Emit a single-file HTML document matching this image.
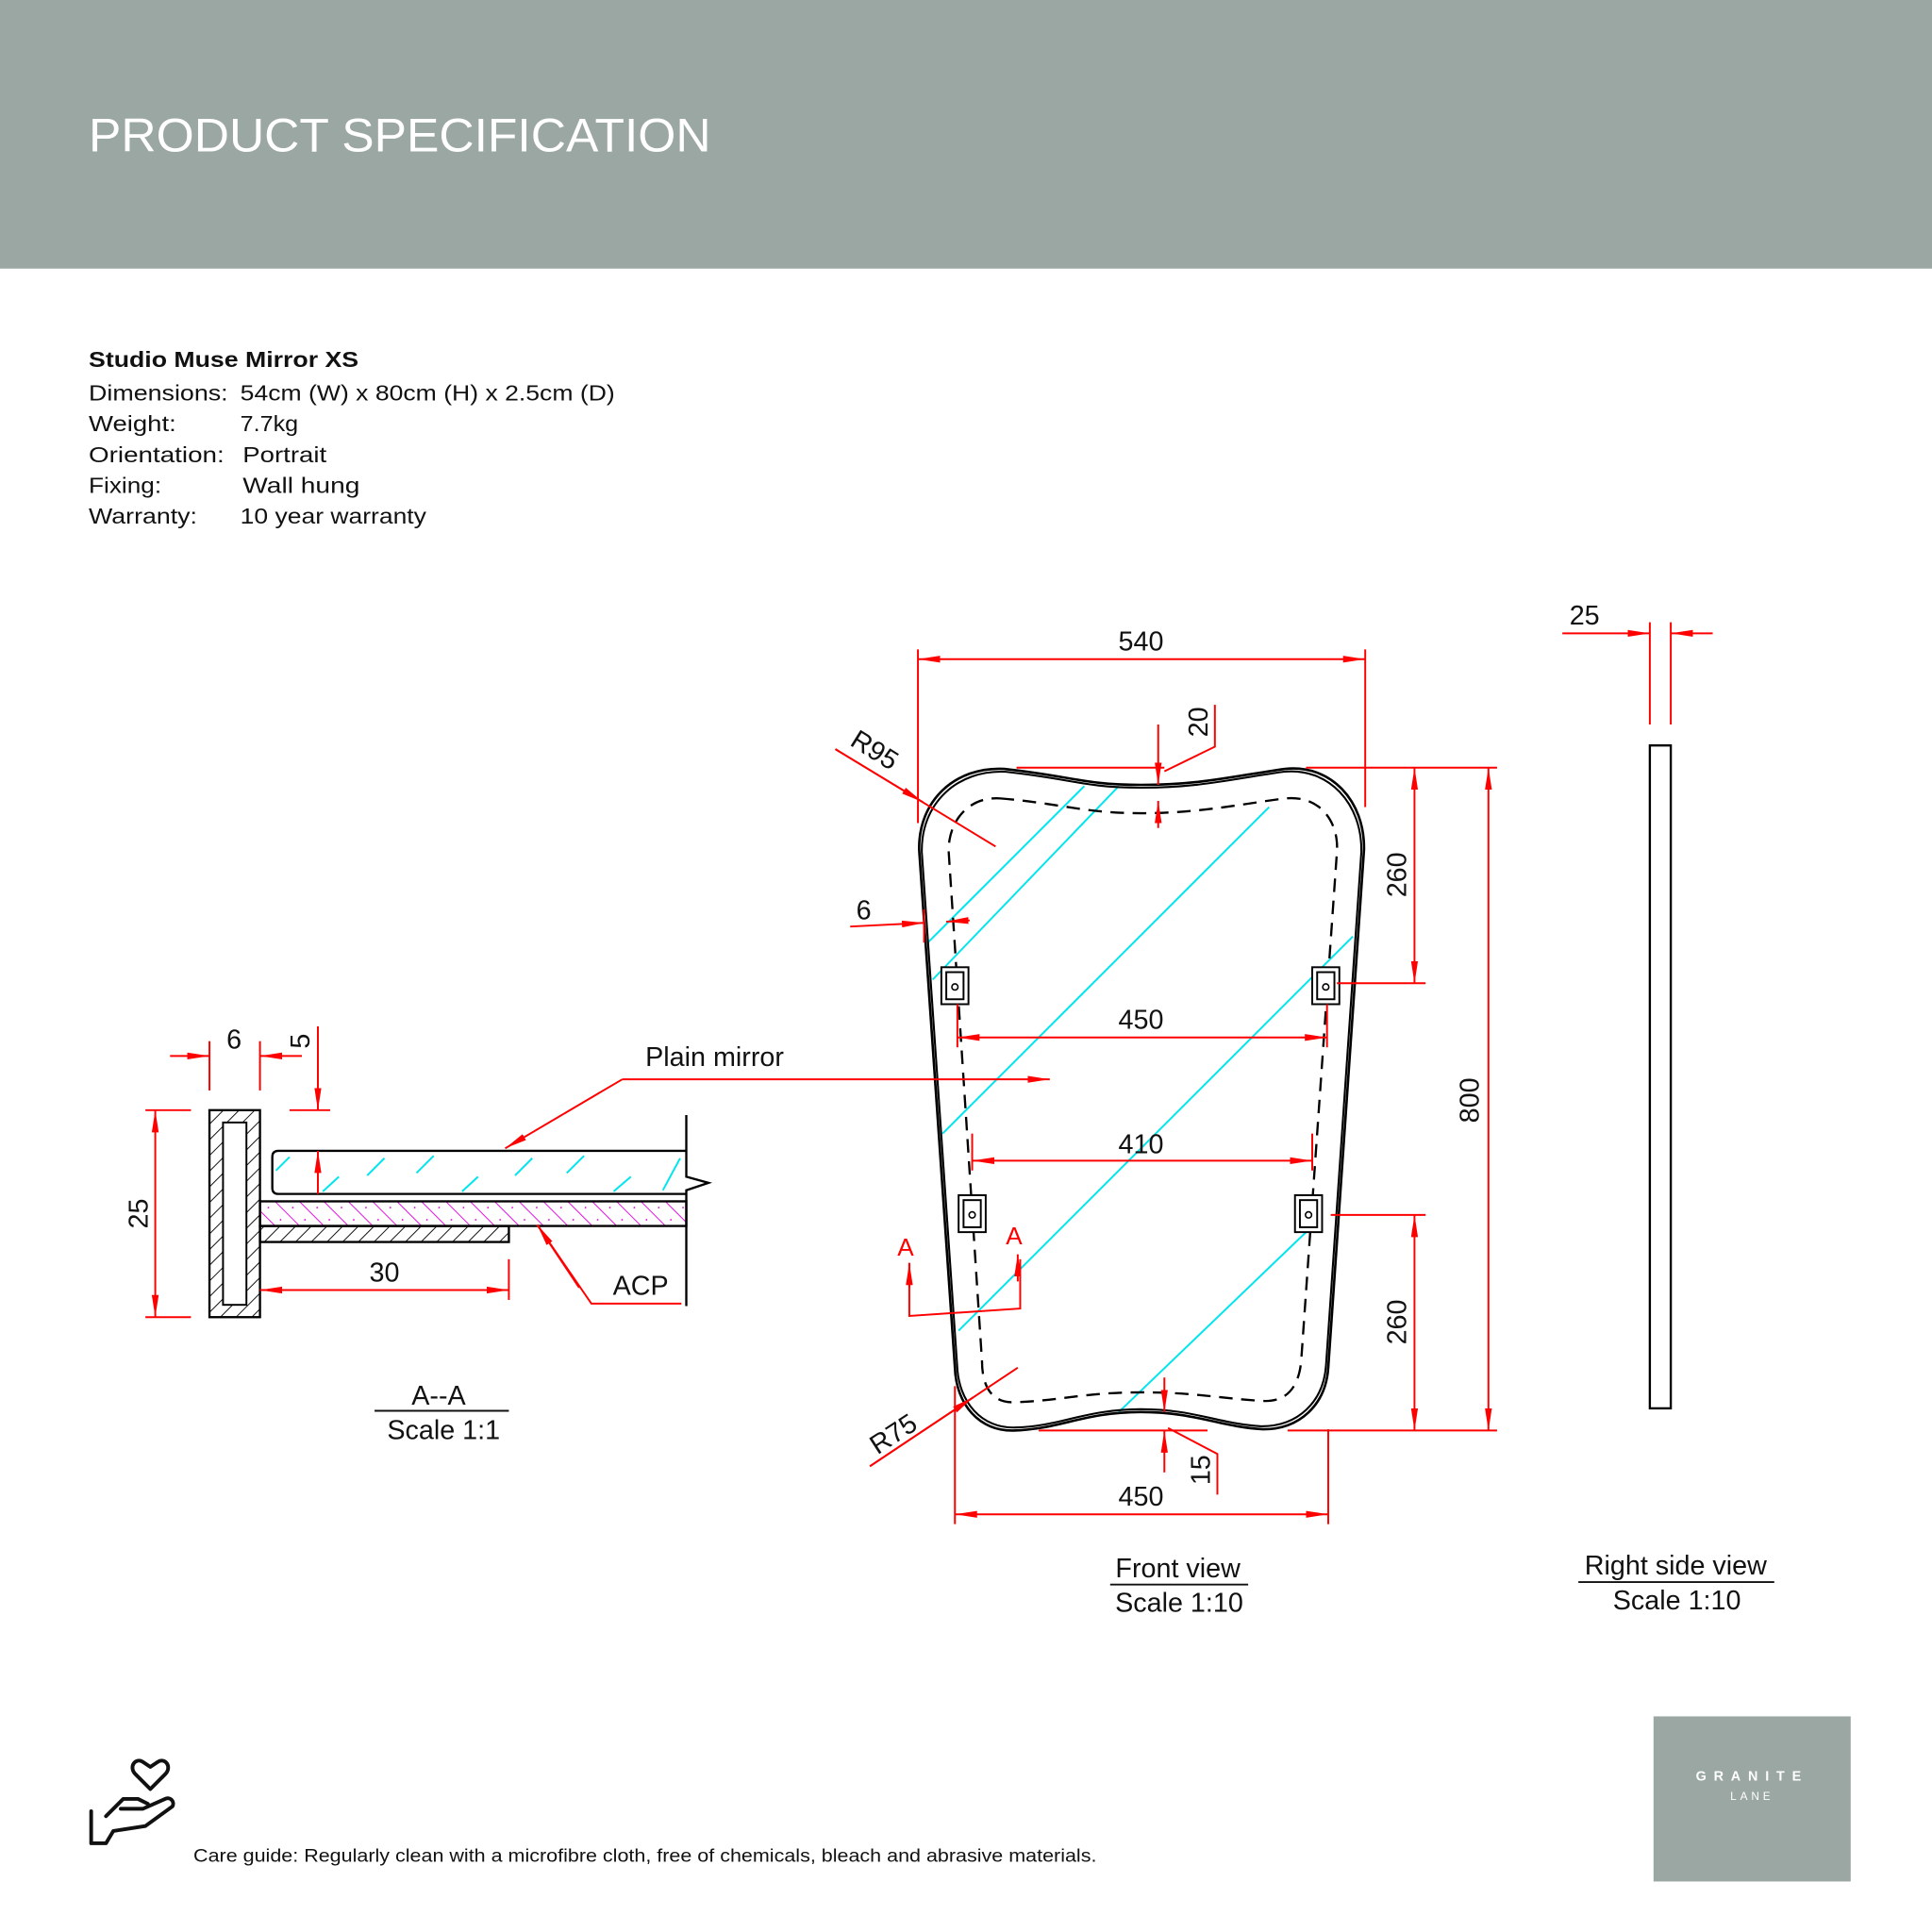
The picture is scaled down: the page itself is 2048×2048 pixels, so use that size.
<!DOCTYPE html>
<html><head><meta charset="utf-8"><style>
html,body{margin:0;padding:0;background:#fff}
svg{display:block}
text{font-family:"Liberation Sans",Arial,sans-serif}
</style></head><body>
<svg width="2048" height="2048" viewBox="0 0 1568 1568" xmlns="http://www.w3.org/2000/svg">
<defs>
<pattern id="hb" width="9" height="9" patternUnits="userSpaceOnUse" patternTransform="rotate(45)"><line x1="0" y1="0" x2="0" y2="9" stroke="#000" stroke-width="1.4"/></pattern>
<pattern id="hm" width="14" height="14" patternUnits="userSpaceOnUse" patternTransform="rotate(-45)"><line x1="0" y1="0" x2="0" y2="14" stroke="#e000e0" stroke-width="1.4"/><circle cx="7" cy="7" r="0.7" fill="#e000e0"/></pattern>
<marker id="a" viewBox="0 0 10 10" refX="10" refY="5" markerWidth="18" markerHeight="7" markerUnits="userSpaceOnUse" orient="auto-start-reverse" preserveAspectRatio="none"><path d="M0,1 L10,5 L0,9 z" fill="#f00"/></marker>
</defs>
<rect x="0" y="0" width="1568" height="218" fill="#9ba7a3"/>
<text x="72" y="123" font-size="38" fill="#fff" textLength="505" lengthAdjust="spacingAndGlyphs">PRODUCT SPECIFICATION</text>
<g font-size="18" fill="#111">
<text x="72" y="298" font-weight="bold" textLength="219" lengthAdjust="spacingAndGlyphs">Studio Muse Mirror XS</text>
<text x="72" y="325" textLength="113" lengthAdjust="spacingAndGlyphs">Dimensions:</text><text x="195" y="325" textLength="304" lengthAdjust="spacingAndGlyphs">54cm (W) x 80cm (H) x 2.5cm (D)</text>
<text x="72" y="350" textLength="71" lengthAdjust="spacingAndGlyphs">Weight:</text><text x="195" y="350" textLength="47" lengthAdjust="spacingAndGlyphs">7.7kg</text>
<text x="72" y="375" textLength="110" lengthAdjust="spacingAndGlyphs">Orientation:</text><text x="197" y="375" textLength="68" lengthAdjust="spacingAndGlyphs">Portrait</text>
<text x="72" y="400" textLength="59" lengthAdjust="spacingAndGlyphs">Fixing:</text><text x="197" y="400" textLength="95" lengthAdjust="spacingAndGlyphs">Wall hung</text>
<text x="72" y="425" textLength="88" lengthAdjust="spacingAndGlyphs">Warranty:</text><text x="195" y="425" textLength="151" lengthAdjust="spacingAndGlyphs">10 year warranty</text>
</g>

<!-- Front view -->
<g stroke="#00e5ee" stroke-width="1.5">
<line x1="880" y1="638" x2="753" y2="765"/>
<line x1="908" y1="638" x2="757" y2="795"/>
<line x1="1030" y1="655" x2="765" y2="920"/>
<line x1="1098" y1="760" x2="778" y2="1080"/>
<line x1="1060" y1="1000" x2="908" y2="1146"/>
</g>
<path d="M815,624 C870,630 880,637 926,637 C975,637 1000,630 1043,624 C1080,620 1108,650 1107,690 L1078,1110 C1076,1140 1055,1160 1025,1160 C990,1158 970,1146 926,1146 C880,1146 860,1160 823,1161 C795,1162 776,1140 775,1110 L746,690 C745,650 775,622 815,624 Z" fill="none" stroke="#000" stroke-width="2"/>
<path d="M815,624 C870,630 880,637 926,637 C975,637 1000,630 1043,624 C1080,620 1108,650 1107,690 L1078,1110 C1076,1140 1055,1160 1025,1160 C990,1158 970,1146 926,1146 C880,1146 860,1160 823,1161 C795,1162 776,1140 775,1110 L746,690 C745,650 775,622 815,624 Z" fill="none" stroke="#000" stroke-width="1.6" transform="translate(926 890) scale(0.988 0.991) translate(-926 -890)"/>
<path d="M812,648 C860,652 880,660 926,660 C975,660 1010,652 1043,648 C1072,645 1087,668 1085,692 L1056,1105 C1054,1125 1045,1138 1025,1137 C990,1135 970,1130 926,1130 C880,1130 860,1137 823,1138 C805,1139 797,1125 797,1105 L770,692 C769,668 785,646 812,648 Z" fill="none" stroke="#000" stroke-width="1.8" stroke-dasharray="11,7"/>
<g fill="#fff" stroke="#000" stroke-width="1.5">
<rect x="764" y="785" width="22" height="30"/><rect x="768" y="789" width="14" height="22"/>
<rect x="1065" y="785" width="22" height="30"/><rect x="1069" y="789" width="14" height="22"/>
<rect x="778" y="970" width="22" height="30"/><rect x="782" y="974" width="14" height="22"/>
<rect x="1051" y="970" width="22" height="30"/><rect x="1055" y="974" width="14" height="22"/>
</g>
<g fill="none" stroke="#000" stroke-width="1.2">
<circle cx="775" cy="801" r="2.5"/><circle cx="1076" cy="801" r="2.5"/><circle cx="789" cy="986" r="2.5"/><circle cx="1062" cy="986" r="2.5"/>
</g>

<g stroke="#f00" stroke-width="1.5" fill="none">
<line x1="745" y1="527" x2="745" y2="668"/><line x1="1108" y1="527" x2="1108" y2="655"/>
<line x1="745" y1="535" x2="1108" y2="535" marker-start="url(#a)" marker-end="url(#a)"/>
<line x1="825" y1="623" x2="945" y2="623"/>
<line x1="940" y1="588" x2="940" y2="637" marker-end="url(#a)"/>
<line x1="940" y1="672" x2="940" y2="650" marker-end="url(#a)"/>
<polyline points="945,626 986,606 986,572"/>
<line x1="678" y1="608" x2="808" y2="687"/>
<line x1="678" y1="608" x2="749" y2="651" marker-end="url(#a)"/>
<line x1="690" y1="752" x2="750" y2="749" marker-end="url(#a)"/>
<line x1="787" y1="747" x2="768" y2="748" marker-end="url(#a)"/>
<line x1="750" y1="738" x2="750" y2="765"/>
<line x1="1060" y1="623" x2="1215" y2="623"/>
<line x1="1085" y1="798" x2="1157" y2="798"/>
<line x1="1148" y1="623" x2="1148" y2="798" marker-start="url(#a)" marker-end="url(#a)"/>
<line x1="1208" y1="623" x2="1208" y2="1161" marker-start="url(#a)" marker-end="url(#a)"/>
<line x1="1080" y1="986" x2="1157" y2="986"/>
<line x1="1045" y1="1161" x2="1215" y2="1161"/>
<line x1="1148" y1="986" x2="1148" y2="1161" marker-start="url(#a)" marker-end="url(#a)"/>
<line x1="777" y1="815" x2="777" y2="850"/><line x1="1077" y1="815" x2="1077" y2="850"/>
<line x1="777" y1="842" x2="1077" y2="842" marker-start="url(#a)" marker-end="url(#a)"/>
<line x1="789" y1="920" x2="789" y2="950"/><line x1="1065" y1="920" x2="1065" y2="950"/>
<line x1="789" y1="942" x2="1065" y2="942" marker-start="url(#a)" marker-end="url(#a)"/>
<line x1="775" y1="1125" x2="775" y2="1237"/><line x1="1078" y1="1160" x2="1078" y2="1237"/>
<line x1="775" y1="1229" x2="1078" y2="1229" marker-start="url(#a)" marker-end="url(#a)"/>
<line x1="843" y1="1161" x2="980" y2="1161"/>
<line x1="945" y1="1118" x2="945" y2="1146" marker-end="url(#a)"/>
<line x1="945" y1="1195" x2="945" y2="1161" marker-end="url(#a)"/>
<polyline points="948,1159 988,1180 988,1213"/>
<line x1="706" y1="1190" x2="826" y2="1110"/>
<line x1="706" y1="1190" x2="790" y2="1134" marker-end="url(#a)"/>
<polyline points="738,1025 738,1068 828,1062 828,1022"/>
<line x1="738" y1="1045" x2="738" y2="1025" marker-end="url(#a)"/>
<line x1="826" y1="1040" x2="826" y2="1018" marker-end="url(#a)"/>
<polyline points="505,876 852,876" marker-end="url(#a)"/>
<line x1="505" y1="876" x2="410" y2="932" marker-end="url(#a)"/>
<line x1="1339" y1="505" x2="1339" y2="588"/><line x1="1356" y1="505" x2="1356" y2="588"/>
<line x1="1268" y1="514" x2="1339" y2="514" marker-end="url(#a)"/>
<line x1="1390" y1="514" x2="1356" y2="514" marker-end="url(#a)"/>
</g>
<g font-size="22" fill="#111" text-anchor="middle">
<text x="926" y="528">540</text>
<text x="926" y="835">450</text>
<text x="926" y="936">410</text>
<text x="926" y="1222">450</text>
<text x="701" y="746">6</text>
<text transform="translate(980 586) rotate(-90)">20</text>
<text transform="translate(1141 710) rotate(-90)">260</text>
<text transform="translate(1200 893) rotate(-90)">800</text>
<text transform="translate(1141 1073) rotate(-90)">260</text>
<text transform="translate(982 1193) rotate(-90)">15</text>
<text transform="translate(706 615) rotate(32)">R95</text>
<text transform="translate(729 1170) rotate(-33)">R75</text>
<text x="1286" y="507">25</text>
</g>
<g font-size="20" fill="#f00" text-anchor="middle"><text x="735" y="1019">A</text><text x="823" y="1010">A</text></g>

<rect x="1339" y="605" width="17" height="538" fill="none" stroke="#000" stroke-width="1.8"/>

<!-- Section A-A -->
<rect x="170" y="901" width="41" height="168" fill="url(#hb)" stroke="#000" stroke-width="1.8"/>
<rect x="181" y="911" width="19" height="148" fill="#fff" stroke="#000" stroke-width="1.5"/>
<rect x="211" y="995" width="202" height="13" fill="url(#hb)" stroke="#000" stroke-width="1.8"/>
<rect x="211" y="975" width="346" height="20" fill="url(#hm)" stroke="#000" stroke-width="1.8"/>
<path d="M557,934 L226,934 Q221,934 221,939 L221,964 Q221,969 226,969 L557,969" fill="#fff" stroke="#000" stroke-width="1.8"/>
<g stroke="#00e5ee" stroke-width="1.5">
<line x1="235" y1="939" x2="224" y2="950"/><line x1="275" y1="955" x2="262" y2="967"/><line x1="312" y1="940" x2="298" y2="954"/>
<line x1="352" y1="938" x2="338" y2="952"/><line x1="388" y1="955" x2="375" y2="967"/><line x1="432" y1="940" x2="418" y2="954"/>
<line x1="474" y1="938" x2="460" y2="952"/><line x1="512" y1="955" x2="498" y2="967"/><line x1="552" y1="940" x2="538" y2="966"/>
</g>
<polyline points="557,905 557,955 575,960 557,966 557,1060" fill="none" stroke="#000" stroke-width="1.8"/>
<g stroke="#f00" stroke-width="1.5" fill="none">
<line x1="118" y1="901" x2="155" y2="901"/><line x1="118" y1="1069" x2="155" y2="1069"/>
<line x1="126" y1="901" x2="126" y2="1069" marker-start="url(#a)" marker-end="url(#a)"/>
<line x1="170" y1="845" x2="170" y2="885"/><line x1="211" y1="845" x2="211" y2="885"/>
<line x1="138" y1="857" x2="170" y2="857" marker-end="url(#a)"/>
<line x1="245" y1="857" x2="211" y2="857" marker-end="url(#a)"/>
<line x1="235" y1="901" x2="268" y2="901"/>
<line x1="258" y1="833" x2="258" y2="901" marker-end="url(#a)"/>
<line x1="258" y1="969" x2="258" y2="934" marker-end="url(#a)"/>
<line x1="413" y1="1022" x2="413" y2="1055"/>
<line x1="211" y1="1047" x2="413" y2="1047" marker-start="url(#a)" marker-end="url(#a)"/>
<polyline points="553,1058 480,1058 436,994"/>
<line x1="470" y1="1045" x2="436" y2="994" marker-end="url(#a)"/>
</g>
<g font-size="22" fill="#111" text-anchor="middle">
<text x="190" y="851">6</text>
<text transform="translate(251 845) rotate(-90)">5</text>
<text transform="translate(120 985) rotate(-90)">25</text>
<text x="312" y="1040">30</text>
<text x="520" y="1051">ACP</text>
<text x="580" y="865">Plain mirror</text>
<text x="356" y="1140">A--A</text>
<text x="360" y="1168">Scale 1:1</text>
<text x="956" y="1280">Front view</text>
<text x="957" y="1308">Scale 1:10</text>
<text x="1360" y="1278">Right side view</text>
<text x="1361" y="1306">Scale 1:10</text>
</g>
<g stroke="#111" stroke-width="1.5">
<line x1="304" y1="1145" x2="413" y2="1145"/>
<line x1="901" y1="1286" x2="1013" y2="1286"/>
<line x1="1281" y1="1284" x2="1440" y2="1284"/>
</g>

<g fill="none" stroke="#111" stroke-width="3" stroke-linejoin="round" stroke-linecap="round">
<path d="M122,1452 L110,1440 C104,1434 110,1426 116,1430 L122,1434 L128,1430 C134,1426 140,1434 134,1440 Z"/>
<path d="M74,1470 L74,1496 L86,1496 L92,1486 L118,1482 L140,1466 C142,1462 138,1458 134,1460 L116,1468 L98,1468"/>
<path d="M86,1474 L100,1460 L112,1460 L120,1464"/>
</g>
<text x="157" y="1511" font-size="14.5" fill="#111" textLength="733" lengthAdjust="spacingAndGlyphs">Care guide:  Regularly clean with a microfibre cloth, free of chemicals, bleach and abrasive materials.</text>

<rect x="1342" y="1393" width="160" height="134" fill="#9ba7a3"/>
<text x="1422" y="1445" font-size="11" fill="#fff" text-anchor="middle" letter-spacing="6" font-weight="bold">GRANITE</text>
<text x="1422" y="1461" font-size="9" fill="#fff" text-anchor="middle" letter-spacing="3">LANE</text>
</svg>
</body></html>
